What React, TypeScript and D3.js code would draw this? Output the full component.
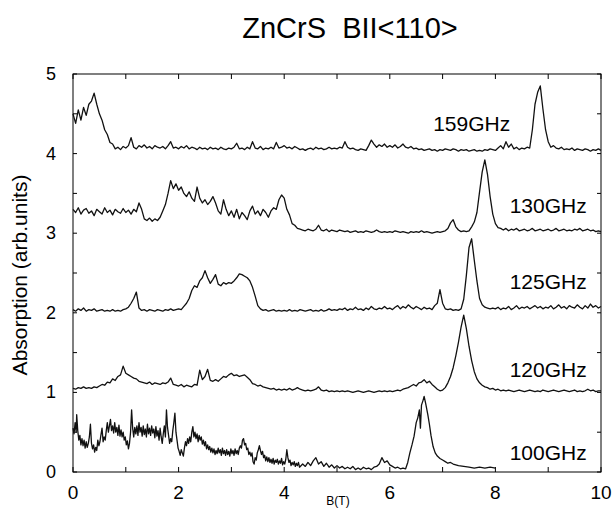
import React from "react";
import * as d3 from "d3";

// ---------- data ----------
const title = "ZnCrS  BII<110>";
const xLabel = "B(T)";
const yLabel = "Absorption (arb.units)";
const xTicks = [0, 1, 2, 3, 4, 5, 6, 7, 8, 9, 10];
const xTickLabels = [0, 2, 4, 6, 8, 10];
const yTicks = [0, 0.5, 1, 1.5, 2, 2.5, 3, 3.5, 4, 4.5, 5];
const yTickLabels = [0, 1, 2, 3, 4, 5];

const seriesNames = ["159GHz", "130GHz", "125GHz", "120GHz", "100GHz"];
// label anchor (right end) in data units
const labelX = [8.28, 9.73, 9.73, 9.73, 9.73];
const labelY = [4.29, 3.25, 2.3, 1.19, 0.15];

const STEP = 0.05; // field step (T) of the sampled spectra below, starting at B = 0

const a159 = [
  4.50,4.38,4.55,4.42,4.58,4.48,4.62,4.66,4.76,4.62,4.50,4.42,4.30,4.24,4.14,4.12,4.06,4.08,4.05,4.09,
  4.07,4.10,4.20,4.08,4.06,4.10,4.08,4.11,4.07,4.09,4.06,4.10,4.08,4.07,4.09,4.06,4.10,4.15,4.07,4.08,
  4.06,4.09,4.07,4.10,4.06,4.08,4.07,4.05,4.08,4.06,4.07,4.05,4.08,4.06,4.07,4.05,4.08,4.06,4.05,4.07,
  4.06,4.08,4.13,4.06,4.07,4.05,4.08,4.06,4.15,4.07,4.06,4.09,4.05,4.07,4.06,4.08,4.06,4.14,4.07,4.08,
  4.10,4.07,4.08,4.06,4.09,4.07,4.05,4.06,4.04,4.06,4.07,4.05,4.08,4.06,4.07,4.05,4.06,4.08,4.06,4.07,
  4.06,4.08,4.07,4.15,4.08,4.06,4.07,4.05,4.04,4.06,4.05,4.04,4.10,4.17,4.12,4.08,4.11,4.09,4.12,4.08,
  4.10,4.08,4.11,4.07,4.09,4.12,4.08,4.07,4.09,4.06,4.07,4.05,4.06,4.04,4.05,4.06,4.04,4.05,4.03,4.05,
  4.04,4.06,4.05,4.04,4.06,4.05,4.03,4.05,4.04,4.05,4.03,4.04,4.05,4.03,4.04,4.03,4.05,4.04,4.06,4.05,
  4.04,4.07,4.10,4.06,4.15,4.08,4.12,4.06,4.08,4.05,4.07,4.06,4.08,4.07,4.30,4.62,4.77,4.85,4.56,4.30,
  4.15,4.08,4.10,4.07,4.06,4.08,4.05,4.06,4.05,4.07,4.04,4.06,4.05,4.04,4.06,4.05,4.03,4.05,4.04,4.06,4.04,
];

const a130 = [
  3.30,3.26,3.32,3.24,3.29,3.31,3.25,3.28,3.22,3.30,3.27,3.24,3.32,3.26,3.29,3.23,3.30,3.27,3.25,3.31,
  3.26,3.29,3.24,3.30,3.27,3.38,3.30,3.18,3.16,3.19,3.15,3.18,3.16,3.20,3.28,3.36,3.50,3.66,3.56,3.62,
  3.54,3.58,3.50,3.46,3.52,3.44,3.40,3.58,3.44,3.38,3.42,3.36,3.40,3.46,3.38,3.28,3.24,3.42,3.30,3.22,
  3.28,3.20,3.30,3.18,3.26,3.22,3.17,3.28,3.34,3.24,3.28,3.22,3.30,3.26,3.20,3.28,3.32,3.30,3.42,3.48,
  3.44,3.30,3.23,3.12,3.10,3.06,3.05,3.04,3.03,3.05,3.04,3.03,3.05,3.10,3.04,3.03,3.05,3.02,3.04,3.03,
  3.02,3.04,3.03,3.02,3.03,3.01,3.02,3.03,3.01,3.02,3.01,3.03,3.02,3.01,3.02,3.04,3.02,3.01,3.02,3.01,
  3.02,3.01,3.03,3.02,3.01,3.02,3.01,3.00,3.02,3.01,3.02,3.01,3.03,3.01,3.02,3.01,3.00,3.01,3.02,3.01,
  3.02,3.03,3.06,3.13,3.17,3.08,3.04,3.02,3.03,3.02,3.03,3.08,3.14,3.26,3.52,3.77,3.92,3.74,3.46,3.24,
  3.12,3.07,3.06,3.04,3.06,3.03,3.05,3.04,3.06,3.03,3.04,3.05,3.03,3.04,3.06,3.03,3.04,3.05,3.03,3.04,
  3.05,3.03,3.04,3.06,3.03,3.04,3.05,3.03,3.04,3.03,3.05,3.04,3.06,3.03,3.04,3.05,3.03,3.04,3.02,3.03,3.02,
];

const a125 = [
  2.04,2.02,2.05,2.03,2.06,2.02,2.04,2.03,2.05,2.02,2.03,2.04,2.02,2.03,2.02,2.04,2.02,2.03,2.02,2.04,
  2.05,2.07,2.12,2.18,2.26,2.06,2.03,2.04,2.02,2.04,2.03,2.02,2.04,2.03,2.02,2.04,2.03,2.05,2.03,2.04,
  2.05,2.04,2.08,2.12,2.18,2.28,2.34,2.32,2.40,2.44,2.53,2.44,2.37,2.42,2.48,2.36,2.34,2.38,2.36,2.38,
  2.37,2.40,2.44,2.49,2.48,2.46,2.44,2.40,2.32,2.21,2.09,2.05,2.03,2.04,2.02,2.03,2.04,2.02,2.03,2.02,
  2.03,2.02,2.04,2.02,2.03,2.02,2.04,2.03,2.02,2.03,2.04,2.02,2.03,2.02,2.04,2.02,2.03,2.05,2.03,2.04,
  2.03,2.05,2.04,2.06,2.03,2.05,2.04,2.07,2.04,2.05,2.03,2.06,2.04,2.08,2.05,2.04,2.06,2.05,2.08,2.05,
  2.06,2.04,2.07,2.09,2.05,2.08,2.06,2.10,2.07,2.05,2.08,2.06,2.04,2.07,2.05,2.06,2.04,2.09,2.12,2.29,
  2.12,2.05,2.04,2.05,2.03,2.04,2.03,2.05,2.17,2.47,2.82,2.93,2.66,2.40,2.18,2.10,2.07,2.06,2.05,2.06,
  2.05,2.07,2.04,2.06,2.05,2.08,2.04,2.06,2.09,2.05,2.07,2.06,2.08,2.05,2.07,2.09,2.06,2.08,2.05,2.07,
  2.06,2.09,2.05,2.07,2.10,2.06,2.08,2.05,2.09,2.07,2.06,2.10,2.07,2.05,2.09,2.06,2.11,2.07,2.09,2.06,2.08,
];

const a120 = [
  1.05,1.04,1.06,1.05,1.07,1.05,1.06,1.05,1.07,1.06,1.08,1.10,1.09,1.13,1.12,1.17,1.15,1.20,1.22,1.33,
  1.24,1.22,1.20,1.18,1.17,1.14,1.13,1.12,1.11,1.13,1.10,1.12,1.11,1.10,1.12,1.11,1.13,1.18,1.10,1.09,
  1.08,1.10,1.07,1.09,1.08,1.07,1.10,1.09,1.28,1.16,1.20,1.29,1.15,1.14,1.16,1.14,1.17,1.20,1.19,1.22,
  1.24,1.21,1.22,1.20,1.21,1.22,1.19,1.16,1.11,1.10,1.08,1.09,1.07,1.06,1.05,1.04,1.05,1.03,1.04,1.03,
  1.04,1.03,1.05,1.03,1.04,1.06,1.04,1.03,1.02,1.03,1.02,1.03,1.04,1.07,1.03,1.02,1.03,1.01,1.02,1.01,
  1.02,1.01,1.02,1.01,1.02,1.01,1.00,1.01,1.02,1.01,1.00,1.01,1.02,1.01,1.00,1.01,1.02,1.01,1.02,1.01,
  1.02,1.01,1.02,1.03,1.02,1.04,1.05,1.06,1.08,1.10,1.08,1.12,1.13,1.16,1.12,1.14,1.10,1.07,1.04,1.02,
  1.03,1.06,1.12,1.20,1.31,1.46,1.63,1.82,1.97,1.80,1.58,1.40,1.26,1.17,1.12,1.09,1.07,1.06,1.04,1.05,
  1.03,1.04,1.02,1.03,1.02,1.03,1.02,1.01,1.02,1.03,1.02,1.01,1.02,1.03,1.02,1.01,1.02,1.01,1.03,1.02,
  1.01,1.02,1.03,1.02,1.01,1.02,1.03,1.02,1.01,1.02,1.03,1.01,1.02,1.01,1.02,1.04,1.02,1.03,1.01,1.02,1.02,
];

// 100 GHz trace, irregularly sampled [B, absorption], ends at 8 T
const p100: [number, number][] = [
  [0.00,0.55],[0.02,0.48],[0.04,0.62],[0.06,0.50],[0.07,0.72],[0.09,0.52],[0.11,0.40],[0.13,0.46],
  [0.15,0.34],[0.17,0.42],[0.19,0.33],[0.21,0.40],[0.23,0.30],[0.25,0.38],[0.27,0.31],[0.29,0.36],
  [0.31,0.44],[0.33,0.60],[0.35,0.36],[0.37,0.29],[0.39,0.34],[0.41,0.25],[0.43,0.31],[0.45,0.27],
  [0.47,0.40],[0.49,0.33],[0.51,0.38],[0.53,0.47],[0.55,0.55],[0.57,0.38],[0.59,0.44],[0.61,0.40],
  [0.63,0.52],[0.65,0.62],[0.67,0.50],[0.69,0.58],[0.71,0.66],[0.73,0.52],[0.75,0.58],[0.77,0.49],
  [0.79,0.62],[0.81,0.50],[0.83,0.56],[0.85,0.46],[0.87,0.59],[0.89,0.45],[0.91,0.53],[0.93,0.44],
  [0.95,0.50],[0.97,0.40],[0.99,0.44],[1.01,0.34],[1.03,0.39],[1.05,0.29],[1.07,0.36],[1.09,0.50],
  [1.11,0.78],[1.13,0.55],[1.15,0.44],[1.17,0.56],[1.19,0.48],[1.21,0.58],[1.23,0.46],[1.25,0.62],
  [1.27,0.50],[1.29,0.56],[1.31,0.45],[1.33,0.58],[1.35,0.47],[1.37,0.54],[1.39,0.44],[1.41,0.60],
  [1.43,0.48],[1.45,0.55],[1.47,0.46],[1.49,0.58],[1.51,0.49],[1.53,0.54],[1.55,0.43],[1.57,0.57],
  [1.59,0.45],[1.61,0.52],[1.63,0.40],[1.65,0.55],[1.67,0.44],[1.69,0.36],[1.71,0.48],[1.73,0.58],
  [1.75,0.44],[1.77,0.78],[1.79,0.56],[1.81,0.46],[1.83,0.36],[1.85,0.42],[1.87,0.38],[1.89,0.52],
  [1.91,0.62],[1.93,0.74],[1.95,0.50],[1.97,0.40],[1.99,0.30],[2.01,0.26],[2.03,0.21],[2.05,0.28],
  [2.07,0.24],[2.09,0.20],[2.11,0.30],[2.13,0.38],[2.15,0.33],[2.17,0.42],[2.19,0.36],[2.21,0.44],
  [2.23,0.38],[2.25,0.50],[2.27,0.57],[2.29,0.44],[2.31,0.50],[2.33,0.42],[2.35,0.48],[2.37,0.38],
  [2.39,0.46],[2.41,0.40],[2.43,0.44],[2.45,0.35],[2.47,0.40],[2.49,0.33],[2.51,0.38],[2.53,0.29],
  [2.55,0.34],[2.57,0.28],[2.59,0.32],[2.61,0.25],[2.63,0.30],[2.65,0.24],[2.67,0.29],[2.69,0.22],
  [2.71,0.27],[2.73,0.23],[2.75,0.30],[2.77,0.24],[2.79,0.28],[2.81,0.21],[2.83,0.30],[2.85,0.23],
  [2.87,0.27],[2.89,0.21],[2.91,0.28],[2.93,0.22],[2.95,0.26],[2.97,0.20],[2.99,0.29],[3.01,0.23],
  [3.03,0.27],[3.05,0.21],[3.07,0.29],[3.09,0.23],[3.11,0.27],[3.13,0.22],[3.15,0.30],[3.17,0.33],
  [3.19,0.30],[3.21,0.40],[3.23,0.42],[3.25,0.34],[3.27,0.36],[3.29,0.28],[3.31,0.30],[3.33,0.22],
  [3.35,0.25],[3.37,0.20],[3.39,0.24],[3.41,0.13],[3.43,0.10],[3.45,0.18],[3.47,0.15],[3.49,0.24],
  [3.51,0.28],[3.53,0.33],[3.55,0.27],[3.57,0.22],[3.59,0.26],[3.61,0.18],[3.63,0.21],[3.65,0.14],
  [3.67,0.19],[3.69,0.13],[3.71,0.18],[3.73,0.12],[3.75,0.16],[3.77,0.11],[3.79,0.17],[3.81,0.10],
  [3.83,0.15],[3.85,0.12],[3.87,0.16],[3.89,0.10],[3.91,0.14],[3.93,0.11],[3.95,0.17],[3.97,0.09],
  [3.99,0.13],[4.01,0.10],[4.03,0.16],[4.05,0.28],[4.07,0.18],[4.09,0.12],[4.11,0.15],[4.13,0.08],
  [4.15,0.12],[4.17,0.09],[4.19,0.13],[4.21,0.07],[4.23,0.11],[4.25,0.08],[4.27,0.12],[4.29,0.06],
  [4.35,0.10],[4.40,0.07],[4.45,0.12],[4.50,0.08],[4.55,0.14],[4.60,0.18],[4.65,0.10],[4.70,0.13],
  [4.75,0.07],[4.80,0.11],[4.85,0.06],[4.90,0.09],[4.95,0.05],[5.00,0.08],[5.05,0.05],[5.10,0.07],
  [5.15,0.04],[5.20,0.06],[5.25,0.04],[5.30,0.07],[5.35,0.03],[5.40,0.05],[5.45,0.03],[5.50,0.06],
  [5.55,0.04],[5.60,0.05],[5.65,0.03],[5.70,0.06],[5.75,0.07],[5.80,0.10],[5.85,0.18],[5.90,0.12],
  [5.95,0.14],[6.00,0.09],[6.05,0.07],[6.10,0.05],[6.15,0.06],[6.20,0.04],[6.25,0.05],[6.30,0.04],
  [6.34,0.12],[6.38,0.24],[6.42,0.34],[6.46,0.45],[6.50,0.62],[6.53,0.68],[6.56,0.78],[6.58,0.55],
  [6.60,0.84],[6.63,0.90],[6.65,0.95],[6.68,0.86],[6.72,0.72],[6.75,0.60],[6.78,0.46],[6.82,0.32],
  [6.86,0.24],[6.90,0.20],[6.95,0.17],[7.00,0.15],[7.05,0.13],[7.10,0.11],[7.15,0.12],[7.20,0.10],
  [7.30,0.08],[7.40,0.07],[7.50,0.06],[7.60,0.05],[7.70,0.06],[7.80,0.05],[7.90,0.06],[8.00,0.05],
];

// ---------- layout ----------
const W = 613;
const H = 508;
const PL = 73, PR = 601, PT = 74, PB = 472;
const FONT = "'Liberation Sans', Arial, Helvetica, sans-serif";

const toPairs = (vals: number[]): [number, number][] =>
  vals.map((v, i) => [i * STEP, v] as [number, number]);

export default function App() {
  const x = d3.scaleLinear().domain([0, 10]).range([PL, PR]);
  const y = d3.scaleLinear().domain([0, 5]).range([PB, PT]);
  const line = d3
    .line<[number, number]>()
    .x((d) => x(d[0]))
    .y((d) => y(d[1]));

  const series: [number, number][][] = [
    toPairs(a159),
    toPairs(a130),
    toPairs(a125),
    toPairs(a120),
    p100,
  ];

  const xt = 5;
  const yt = 4;

  return (
    <svg
      width={W}
      height={H}
      viewBox={`0 0 ${W} ${H}`}
      style={{ position: "absolute", left: 0, top: 0, background: "#fff" }}
      fontFamily={FONT}
    >
      <rect x={0} y={0} width={W} height={H} fill="#fff" />
      <text
        x={350}
        y={38}
        fontSize={29}
        textAnchor="middle"
        fill="#000"
        style={{ whiteSpace: "pre" }}
      >
        {title}
      </text>

      {/* frame */}
      <rect
        x={PL}
        y={PT}
        width={PR - PL}
        height={PB - PT}
        fill="none"
        stroke="#000"
        strokeWidth={1}
      />

      {/* x ticks */}
      {xTicks.map((t) => (
        <g key={"xt" + t}>
          <line x1={x(t)} x2={x(t)} y1={PB} y2={PB - xt} stroke="#000" />
          <line x1={x(t)} x2={x(t)} y1={PT} y2={PT + xt} stroke="#000" />
        </g>
      ))}
      {/* y ticks */}
      {yTicks.map((t) => (
        <g key={"yt" + t}>
          <line x1={PL} x2={PL + yt} y1={y(t)} y2={y(t)} stroke="#000" />
          <line x1={PR} x2={PR - yt} y1={y(t)} y2={y(t)} stroke="#000" />
        </g>
      ))}

      {xTickLabels.map((t) => (
        <text key={"xl" + t} x={x(t)} y={499} fontSize={19} textAnchor="middle" fill="#000">
          {t}
        </text>
      ))}
      {yTickLabels.map((t) => (
        <text
          key={"yl" + t}
          x={56}
          y={y(t)}
          fontSize={18}
          textAnchor="end"
          dominantBaseline="central"
          fill="#000"
        >
          {t}
        </text>
      ))}

      <text x={338} y={505} fontSize={12} textAnchor="middle" fill="#000">
        {xLabel}
      </text>
      <text
        transform={`translate(27,${275}) rotate(-90)`}
        fontSize={21}
        textAnchor="middle"
        fill="#000"
      >
        {yLabel}
      </text>

      {series.map((s, i) => (
        <path
          key={"s" + i}
          d={line(s) || ""}
          fill="none"
          stroke="#111"
          strokeWidth={1.3}
          strokeLinejoin="round"
        />
      ))}

      {seriesNames.map((n, i) => (
        <text
          key={"n" + i}
          x={x(labelX[i])}
          y={y(labelY[i])}
          fontSize={21}
          textAnchor="end"
          fill="#000"
        >
          {n}
        </text>
      ))}
    </svg>
  );
}
